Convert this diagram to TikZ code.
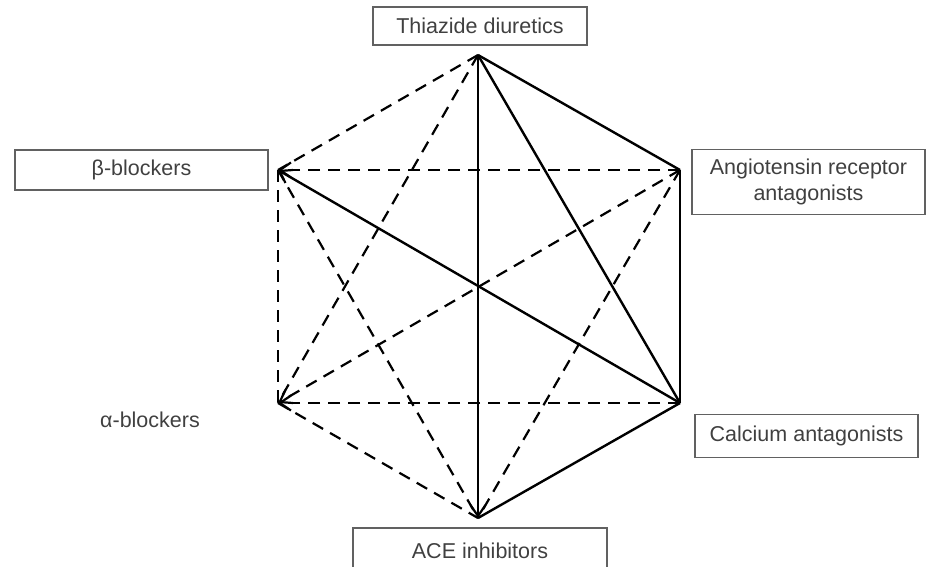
\documentclass[tikz,border=0pt]{standalone}
\usepackage{fontspec}
\setmainfont{Liberation Sans}
\usetikzlibrary{arrows.meta}
\begin{document}
\begin{tikzpicture}[x=1pt,y=-1pt,
  drug/.style={draw=black!62, line width=1.6pt, text=black!75,
    font=\fontsize{21.5}{26}\selectfont, inner sep=0pt, align=center},
  link/.style={line width=2.4pt, black},
  dlink/.style={line width=2.2pt, black, dash pattern=on 12pt off 8pt},
  tip/.style={-{Straight Barb[length=11pt,width=15pt,line width=2.2pt]}}]
\useasboundingbox (0,0) rectangle (927,566);

% drug-class labels
\node[drug, minimum width=214pt, minimum height=38pt] (thz) at (480,26) {Thiazide diuretics};
\node[drug, minimum width=253pt, minimum height=40pt] (beta) at (141.5,170) {β-blockers};
\node[drug, minimum width=233pt, minimum height=65pt] (arb) at (808.5,182) {Angiotensin receptor\\antagonists};
\node[drug, draw=none] (alpha) at (150,420) {α-blockers};
\node[drug, minimum width=223pt, minimum height=43pt] (cca) at (806.5,436) {Calcium antagonists};
\node[drug, minimum width=254pt, minimum height=46pt] (ace) at (480,551) {ACE inhibitors};

% corners of the hexagon
\coordinate (T) at (478,55);
\coordinate (A) at (680,170);
\coordinate (C) at (680,403);
\coordinate (E) at (478,518);
\coordinate (L) at (278,403);
\coordinate (B) at (278,170);

% solid links
\draw[link] (T) -- (A);
\draw[link] (T) -- (C);
\draw[link, tip] (T) -- (E);
\draw[link] (A) -- (C);
\draw[link] (C) -- (E);
\draw[link, tip] (C) -- (B);

% dashed links
\draw[dlink] (T) -- (B);
\draw[dlink] (T) -- (L);
\draw[dlink, tip] (A) -- (B);
\draw[dlink, tip] (A) -- (L);
\draw[dlink] (A) -- (E);
\draw[dlink, tip] (C) -- (L);
\draw[dlink] (B) -- (L);
\draw[dlink] (B) -- (E);
\draw[dlink] (L) -- (E);
\end{tikzpicture}
\end{document}
